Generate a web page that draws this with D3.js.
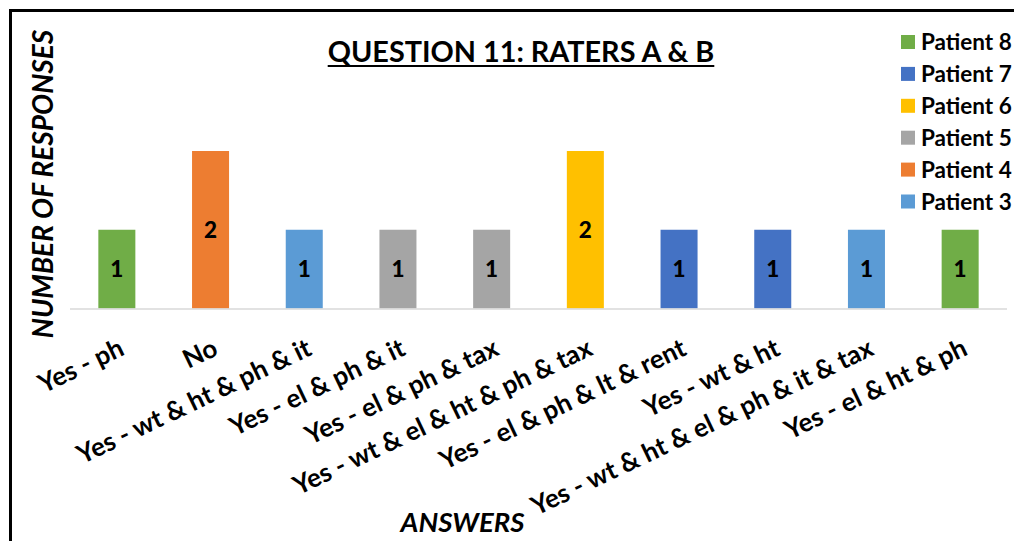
<!DOCTYPE html>
<html>
<head>
<meta charset="utf-8">
<script src="https://cdn.jsdelivr.net/npm/d3@7"></script>
<style>
  html, body { margin: 0; padding: 0; background: #fff; }
  svg { display: block; }
  text { font-family: Lato, "Open Sans", sans-serif; font-weight: bold; fill: #000; }
</style>
</head>
<body>
<svg id="chart" width="1014" height="541"></svg>
<script>
const categories = [
  "Yes - ph",
  "No",
  "Yes - wt & ht & ph & it",
  "Yes - el & ph & it",
  "Yes - el & ph & tax",
  "Yes - wt & el & ht & ph & tax",
  "Yes - el & ph & lt & rent",
  "Yes - wt & ht",
  "Yes - wt & ht & el & ph & it & tax",
  "Yes - el & ht & ph"
];
const seriesNames = ["Patient 3", "Patient 4", "Patient 5", "Patient 6", "Patient 7", "Patient 8"];
const patient3 = [0, 0, 1, 0, 0, 0, 0, 0, 1, 0];
const patient4 = [0, 2, 0, 0, 0, 0, 0, 0, 0, 0];
const patient5 = [0, 0, 0, 1, 1, 0, 0, 0, 0, 0];
const patient6 = [0, 0, 0, 0, 0, 2, 0, 0, 0, 0];
const patient7 = [0, 0, 0, 0, 0, 0, 1, 1, 0, 0];
const patient8 = [1, 0, 0, 0, 0, 0, 0, 0, 0, 1];
const seriesColors = ["#5B9BD5", "#ED7D31", "#A5A5A5", "#FFC000", "#4472C4", "#70AD47"];
const titleText = "QUESTION 11: RATERS A & B";
const yTitle = "NUMBER OF RESPONSES";
const xTitle = "ANSWERS";

const seriesValues = [patient3, patient4, patient5, patient6, patient7, patient8];
const table = categories.map((c, i) => {
  const row = { category: c };
  seriesNames.forEach((s, j) => row[s] = seriesValues[j][i]);
  return row;
});

const svg = d3.select("#chart");
svg.append("rect").attr("width", 1014).attr("height", 541).attr("fill", "#fff");
// chart frame (extends past the right/bottom edge as in the reference)
svg.append("rect").attr("x", 10.5).attr("y", 10.5).attr("width", 1100).attr("height", 600)
  .attr("fill", "none").attr("stroke", "#000").attr("stroke-width", 3);

const x = d3.scaleBand().domain(categories).range([70, 1007]).paddingInner(0.605).paddingOuter(0.3025);
const y = d3.scaleLinear().domain([0, 2]).range([308.5, 151]);

const stack = d3.stack().keys(seriesNames);
const stacked = stack(table);

const layers = svg.append("g").selectAll("g").data(stacked).join("g")
  .attr("fill", (d, i) => seriesColors[i]);
layers.selectAll("rect").data(d => d.filter(p => p[1] - p[0] > 0)).join("rect")
  .attr("x", d => x(d.data.category))
  .attr("width", x.bandwidth())
  .attr("y", d => y(d[1]))
  .attr("height", d => y(d[0]) - y(d[1]));

// data labels
layers.selectAll("text").data(d => d.filter(p => p[1] - p[0] > 0)).join("text")
  .attr("x", d => x(d.data.category) + x.bandwidth() / 2)
  .attr("y", d => (y(d[0]) + y(d[1])) / 2)
  .attr("dy", "0.36em")
  .attr("text-anchor", "middle")
  .style("font-size", "22.5px")
  .style("font-weight", "900")
  .text(d => d[1] - d[0]);

// x axis line
svg.append("line").attr("x1", 70).attr("x2", 1007).attr("y1", 309).attr("y2", 309)
  .attr("stroke", "#d9d9d9").attr("stroke-width", 1.5);

// category labels
svg.append("g").selectAll("text").data(categories).join("text")
  .attr("transform", d => `translate(${x(d) + x.bandwidth() / 2 + 5},346) rotate(-25.5)`)
  .attr("text-anchor", "end")
  .attr("dy", "0.35em")
  .style("font-size", "26px")
  .text(d => d);

// title
const t = svg.append("text").attr("x", 521).attr("y", 62).attr("text-anchor", "middle")
  .style("font-size", "28.8px").text(titleText);
const tw = t.node().getComputedTextLength();
svg.append("line").attr("x1", 521 - tw / 2).attr("x2", 521 + tw / 2).attr("y1", 66).attr("y2", 66)
  .attr("stroke", "#000").attr("stroke-width", 2);

// axis titles
svg.append("text").attr("transform", "translate(53,184) rotate(-90)").attr("text-anchor", "middle")
  .style("font-size", "28px").style("font-style", "italic").text(yTitle);
svg.append("text").attr("x", 462.5).attr("y", 532).attr("text-anchor", "middle")
  .style("font-size", "27.5px").style("font-style", "italic").text(xTitle);

// legend (reverse order)
const legendItems = seriesNames.map((s, i) => ({ name: s, color: seriesColors[i] })).reverse();
const lg = svg.append("g").selectAll("g").data(legendItems).join("g")
  .attr("transform", (d, i) => `translate(901,${42 + i * 31.9})`);
lg.append("rect").attr("x", 0).attr("y", -7).attr("width", 14).attr("height", 14).attr("fill", d => d.color);
lg.append("text").attr("x", 20).attr("dy", "0.36em").style("font-size", "22.5px").text(d => d.name);
</script>
</body>
</html>
